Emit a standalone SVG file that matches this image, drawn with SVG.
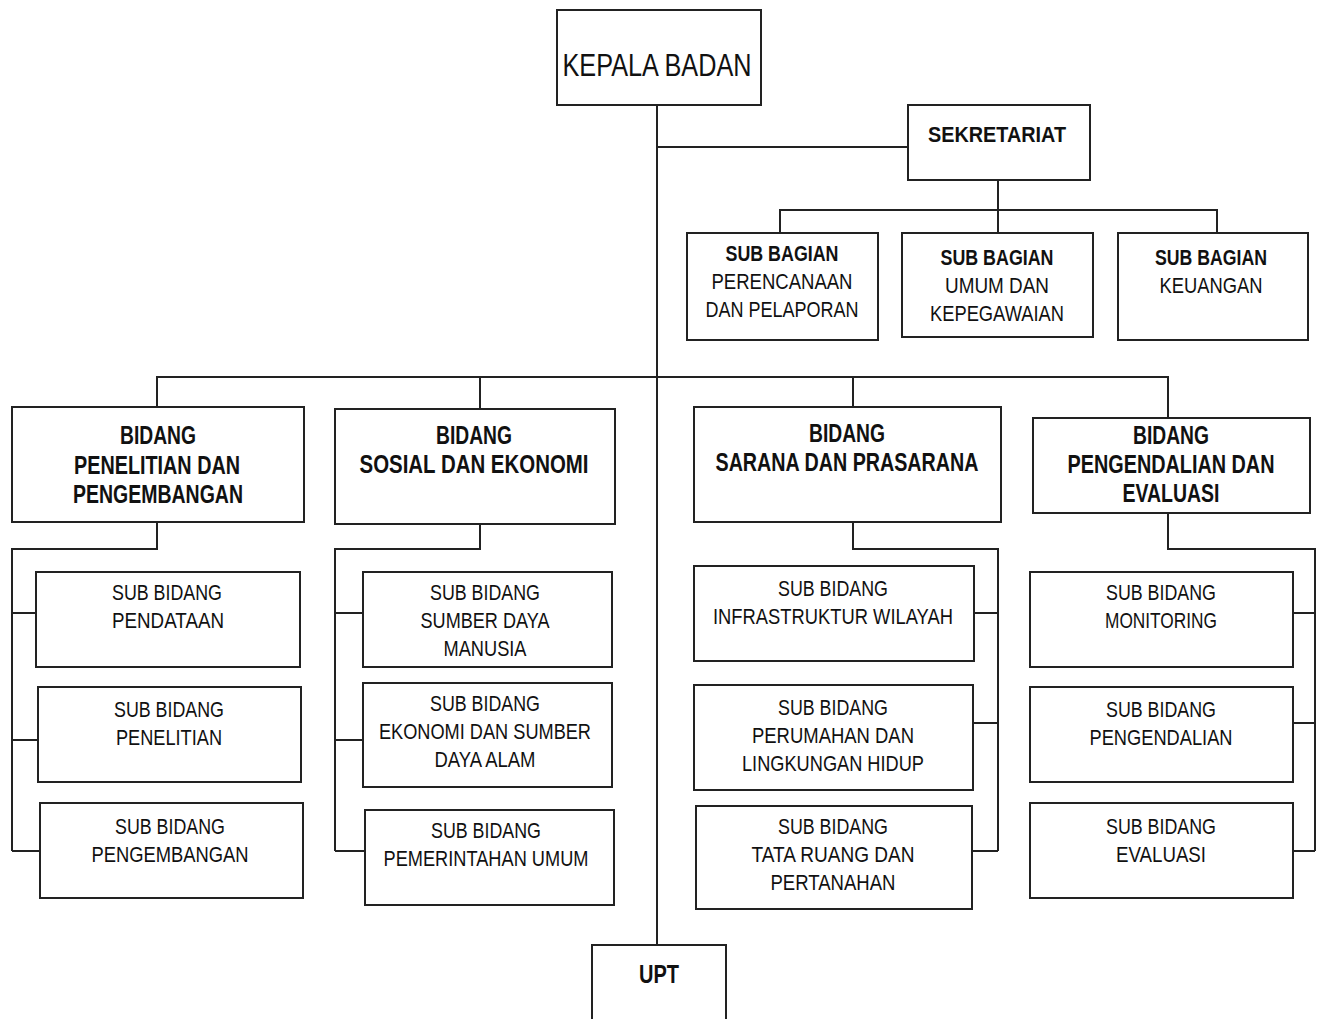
<svg xmlns="http://www.w3.org/2000/svg" width="1317" height="1019" viewBox="0 0 1317 1019">
<style>
rect.b{fill:#fff;stroke:#222;stroke-width:2}
.c path{fill:none;stroke:#222;stroke-width:2}
text{font-family:"Liberation Sans Narrow","Liberation Sans",Arial,sans-serif;fill:#111;text-anchor:middle}
.r{font-size:22px}
.bd{font-size:25px;font-weight:bold}
.sb{font-size:22px;font-weight:bold}
</style>
<rect width="1317" height="1019" fill="#fff"/>
<g class="c" id="connectors">
<path d="M657 105V945"/>
<path d="M657 147H908"/>
<path d="M998 180V210M780 233V210H1217V233M998 210V233"/>
<path d="M157 407V377H1168V418M480 377V409M853 377V407"/>
<path d="M157 522V549H12V851M12 613H36M12 740H38M12 851H40"/>
<path d="M480 524V549H335V851M335 613H363M335 740H363M335 851H365"/>
<path d="M853 522V549H998V851M974 613H998M973 723H998M972 851H998"/>
<path d="M1168 513V549H1315V851M1293 613H1315M1293 723H1315M1293 851H1315"/>
</g>
<g id="kepala"><rect class="b" x="557" y="10" width="204" height="95"/><text x="657" y="76" font-size="32" textLength="189" lengthAdjust="spacingAndGlyphs">KEPALA BADAN</text></g>
<g id="sekretariat"><rect class="b" x="908" y="105" width="182" height="75"/><text class="sb" x="997" y="142" textLength="138" lengthAdjust="spacingAndGlyphs">SEKRETARIAT</text></g>
<g id="subbag1"><rect class="b" x="687" y="233" width="191" height="107"/>
<text class="sb" x="782" y="261" textLength="113" lengthAdjust="spacingAndGlyphs">SUB BAGIAN</text>
<text class="r" x="782" y="289" textLength="141" lengthAdjust="spacingAndGlyphs">PERENCANAAN</text>
<text class="r" x="782" y="317" textLength="153" lengthAdjust="spacingAndGlyphs">DAN PELAPORAN</text></g>
<g id="subbag2"><rect class="b" x="902" y="233" width="191" height="104"/>
<text class="sb" x="997" y="265" textLength="113" lengthAdjust="spacingAndGlyphs">SUB BAGIAN</text>
<text class="r" x="997" y="293" textLength="104" lengthAdjust="spacingAndGlyphs">UMUM  DAN</text>
<text class="r" x="997" y="321" textLength="134" lengthAdjust="spacingAndGlyphs">KEPEGAWAIAN</text></g>
<g id="subbag3"><rect class="b" x="1118" y="233" width="190" height="107"/>
<text class="sb" x="1211" y="265" textLength="112" lengthAdjust="spacingAndGlyphs">SUB BAGIAN</text>
<text class="r" x="1211" y="293" textLength="103" lengthAdjust="spacingAndGlyphs">KEUANGAN</text></g>
<g id="bidang1"><rect class="b" x="12" y="407" width="292" height="115"/>
<text class="bd" x="158" y="444" textLength="76" lengthAdjust="spacingAndGlyphs">BIDANG</text>
<text class="bd" x="157" y="474" textLength="166" lengthAdjust="spacingAndGlyphs">PENELITIAN DAN</text>
<text class="bd" x="158" y="503" textLength="170" lengthAdjust="spacingAndGlyphs">PENGEMBANGAN</text></g>
<g id="bidang2"><rect class="b" x="335" y="409" width="280" height="115"/>
<text class="bd" x="474" y="444" textLength="76" lengthAdjust="spacingAndGlyphs">BIDANG</text>
<text class="bd" x="474" y="473" textLength="229" lengthAdjust="spacingAndGlyphs">SOSIAL DAN   EKONOMI</text></g>
<g id="bidang3"><rect class="b" x="694" y="407" width="307" height="115"/>
<text class="bd" x="847" y="442" textLength="76" lengthAdjust="spacingAndGlyphs">BIDANG</text>
<text class="bd" x="847" y="471" textLength="263" lengthAdjust="spacingAndGlyphs">SARANA  DAN PRASARANA</text></g>
<g id="bidang4"><rect class="b" x="1033" y="418" width="277" height="95"/>
<text class="bd" x="1171" y="444" textLength="76" lengthAdjust="spacingAndGlyphs">BIDANG</text>
<text class="bd" x="1171" y="473" textLength="207" lengthAdjust="spacingAndGlyphs">PENGENDALIAN  DAN</text>
<text class="bd" x="1171" y="502" textLength="97" lengthAdjust="spacingAndGlyphs">EVALUASI</text></g>
<g id="sb-pendataan"><rect class="b" x="36" y="572" width="264" height="95"/>
<text class="r" x="167" y="600" textLength="110" lengthAdjust="spacingAndGlyphs">SUB BIDANG</text>
<text class="r" x="168" y="628" textLength="112" lengthAdjust="spacingAndGlyphs">PENDATAAN</text></g>
<g id="sb-penelitian"><rect class="b" x="38" y="687" width="263" height="95"/>
<text class="r" x="169" y="717" textLength="110" lengthAdjust="spacingAndGlyphs">SUB BIDANG</text>
<text class="r" x="169" y="745" textLength="106" lengthAdjust="spacingAndGlyphs">PENELITIAN</text></g>
<g id="sb-pengembangan"><rect class="b" x="40" y="803" width="263" height="95"/>
<text class="r" x="170" y="834" textLength="110" lengthAdjust="spacingAndGlyphs">SUB BIDANG</text>
<text class="r" x="170" y="862" textLength="157" lengthAdjust="spacingAndGlyphs">PENGEMBANGAN</text></g>
<g id="sb-sdm"><rect class="b" x="363" y="572" width="249" height="95"/>
<text class="r" x="485" y="600" textLength="110" lengthAdjust="spacingAndGlyphs">SUB BIDANG</text>
<text class="r" x="485" y="628" textLength="129" lengthAdjust="spacingAndGlyphs">SUMBER DAYA</text>
<text class="r" x="485" y="656" textLength="83" lengthAdjust="spacingAndGlyphs">MANUSIA</text></g>
<g id="sb-ekonomi"><rect class="b" x="363" y="683" width="249" height="104"/>
<text class="r" x="485" y="711" textLength="110" lengthAdjust="spacingAndGlyphs">SUB BIDANG</text>
<text class="r" x="485" y="739" textLength="212" lengthAdjust="spacingAndGlyphs">EKONOMI DAN SUMBER</text>
<text class="r" x="485" y="767" textLength="101" lengthAdjust="spacingAndGlyphs">DAYA ALAM</text></g>
<g id="sb-pemerintahan"><rect class="b" x="365" y="810" width="249" height="95"/>
<text class="r" x="486" y="838" textLength="110" lengthAdjust="spacingAndGlyphs">SUB BIDANG</text>
<text class="r" x="486" y="866" textLength="205" lengthAdjust="spacingAndGlyphs">PEMERINTAHAN UMUM</text></g>
<g id="sb-infrastruktur"><rect class="b" x="694" y="566" width="280" height="95"/>
<text class="r" x="833" y="596" textLength="110" lengthAdjust="spacingAndGlyphs">SUB BIDANG</text>
<text class="r" x="833" y="624" textLength="240" lengthAdjust="spacingAndGlyphs">INFRASTRUKTUR WILAYAH</text></g>
<g id="sb-perumahan"><rect class="b" x="694" y="685" width="279" height="105"/>
<text class="r" x="833" y="715" textLength="110" lengthAdjust="spacingAndGlyphs">SUB BIDANG</text>
<text class="r" x="833" y="743" textLength="162" lengthAdjust="spacingAndGlyphs">PERUMAHAN DAN</text>
<text class="r" x="833" y="771" textLength="182" lengthAdjust="spacingAndGlyphs">LINGKUNGAN HIDUP</text></g>
<g id="sb-tataruang"><rect class="b" x="696" y="806" width="276" height="103"/>
<text class="r" x="833" y="834" textLength="110" lengthAdjust="spacingAndGlyphs">SUB BIDANG</text>
<text class="r" x="833" y="862" textLength="163" lengthAdjust="spacingAndGlyphs">TATA RUANG DAN</text>
<text class="r" x="833" y="890" textLength="125" lengthAdjust="spacingAndGlyphs">PERTANAHAN</text></g>
<g id="sb-monitoring"><rect class="b" x="1030" y="572" width="263" height="95"/>
<text class="r" x="1161" y="600" textLength="110" lengthAdjust="spacingAndGlyphs">SUB BIDANG</text>
<text class="r" x="1161" y="628" textLength="112" lengthAdjust="spacingAndGlyphs">MONITORING</text></g>
<g id="sb-pengendalian"><rect class="b" x="1030" y="687" width="263" height="95"/>
<text class="r" x="1161" y="717" textLength="110" lengthAdjust="spacingAndGlyphs">SUB BIDANG</text>
<text class="r" x="1161" y="745" textLength="143" lengthAdjust="spacingAndGlyphs">PENGENDALIAN</text></g>
<g id="sb-evaluasi"><rect class="b" x="1030" y="803" width="263" height="95"/>
<text class="r" x="1161" y="834" textLength="110" lengthAdjust="spacingAndGlyphs">SUB BIDANG</text>
<text class="r" x="1161" y="862" textLength="90" lengthAdjust="spacingAndGlyphs">EVALUASI</text></g>
<g id="upt"><rect class="b" x="592" y="945" width="134" height="80"/>
<text class="bd" x="659" y="983" textLength="40" lengthAdjust="spacingAndGlyphs">UPT</text></g>
</svg>
